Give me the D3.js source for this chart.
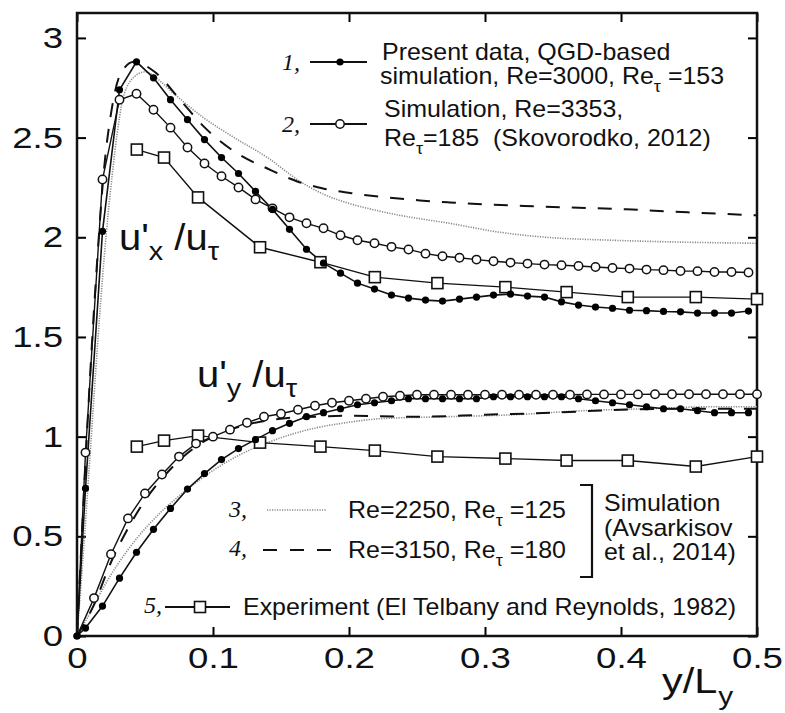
<!DOCTYPE html>
<html>
<head>
<meta charset="utf-8">
<script src="https://cdn.jsdelivr.net/npm/d3@7"></script>
<style>
  body { margin: 0; background: #fff; }
  text { white-space: pre; }
</style>
</head>
<body>
<svg id="chart" width="785" height="713"></svg>
<script>
// ---- data ----
// present data, QGD simulation (filled dots)
const presentX = [0, 0.00625, 0.01875, 0.03125, 0.04375, 0.05625, 0.06875, 0.08125, 0.09375, 0.10625,
  0.11875, 0.13125, 0.14375, 0.15625, 0.16875, 0.18125, 0.19375, 0.20625, 0.21875, 0.23125,
  0.24375, 0.25625, 0.26875, 0.28125, 0.29375, 0.30625, 0.31875, 0.33125, 0.34375, 0.35625,
  0.36875, 0.38125, 0.39375, 0.40625, 0.41875, 0.43125, 0.44375, 0.45625, 0.46875, 0.48125, 0.49375];
const presentUx = [0, 0.74, 2.03, 2.74, 2.88, 2.80, 2.69, 2.59, 2.49, 2.40,
  2.32, 2.23, 2.14, 2.04, 1.94, 1.87, 1.82, 1.77, 1.74, 1.71,
  1.695, 1.685, 1.68, 1.69, 1.70, 1.71, 1.715, 1.705, 1.70, 1.676,
  1.66, 1.65, 1.644, 1.634, 1.632, 1.628, 1.626, 1.62, 1.62, 1.62, 1.63];
const presentUy = [0, 0.04, 0.15, 0.29, 0.42, 0.535, 0.64, 0.737, 0.815, 0.885,
  0.94, 0.985, 1.03, 1.067, 1.10, 1.12, 1.14, 1.16, 1.17, 1.18,
  1.19, 1.19, 1.19, 1.19, 1.19, 1.20, 1.20, 1.20, 1.20, 1.20,
  1.19, 1.18, 1.17, 1.16, 1.15, 1.14, 1.14, 1.13, 1.12, 1.12, 1.12];

// Skovorodko 2012 (open circles)
const skovUxX = presentX;
const skovUx = [0, 0.92, 2.29, 2.69, 2.72, 2.64, 2.55, 2.45, 2.37, 2.306,
  2.25, 2.19, 2.145, 2.10, 2.07, 2.045, 2.01, 1.985, 1.97, 1.952,
  1.939, 1.918, 1.905, 1.897, 1.888, 1.880, 1.873, 1.868, 1.863, 1.860,
  1.856, 1.851, 1.846, 1.843, 1.838, 1.835, 1.831, 1.830, 1.826, 1.826, 1.823];
const skovUyX = [0, 0.0125, 0.025, 0.0375, 0.05, 0.0625, 0.075, 0.0875, 0.1, 0.1125,
  0.125, 0.1375, 0.15, 0.1625, 0.175, 0.1875, 0.2, 0.2125, 0.225, 0.2375,
  0.25, 0.2625, 0.275, 0.2875, 0.3, 0.3125, 0.325, 0.3375, 0.35, 0.3625,
  0.375, 0.3875, 0.4, 0.4125, 0.425, 0.4375, 0.45, 0.4625, 0.475, 0.4875, 0.5];
const skovUy = [0, 0.19, 0.41, 0.59, 0.715, 0.81, 0.90, 0.965, 1.00, 1.035,
  1.07, 1.10, 1.115, 1.135, 1.155, 1.17, 1.18, 1.19, 1.20, 1.205,
  1.21, 1.21, 1.21, 1.21, 1.21, 1.21, 1.21, 1.21, 1.21, 1.21,
  1.212, 1.212, 1.212, 1.212, 1.213, 1.213, 1.213, 1.213, 1.213, 1.213, 1.213];

// Avsarkisov et al. 2014, Re=2250 (dotted)
const avs2250UxX = [0, 0.005, 0.01, 0.015, 0.02, 0.026, 0.033, 0.04, 0.05, 0.06, 0.068, 0.08, 0.093,
  0.105, 0.118, 0.14, 0.164, 0.18, 0.2, 0.22, 0.2375, 0.274, 0.311, 0.345, 0.394, 0.45, 0.5];
const avs2250Ux = [0, 0.45, 0.95, 1.45, 1.9, 2.32, 2.67, 2.79, 2.83, 2.79, 2.74, 2.67, 2.60,
  2.545, 2.49, 2.40, 2.28, 2.22, 2.17, 2.135, 2.11, 2.07, 2.025, 2.00, 1.985, 1.975, 1.97];
const avs2250UyX = [0, 0.01, 0.02, 0.03, 0.044, 0.06, 0.08, 0.1, 0.12, 0.144, 0.173, 0.198,
  0.223, 0.272, 0.322, 0.371, 0.419, 0.468, 0.5];
const avs2250Uy = [0, 0.12, 0.25, 0.36, 0.49, 0.61, 0.73, 0.83, 0.91, 0.98, 1.04, 1.07,
  1.09, 1.10, 1.11, 1.13, 1.14, 1.15, 1.15];

// Avsarkisov et al. 2014, Re=3150 (dashed)
const avs3150UxX = [0, 0.005, 0.01, 0.015, 0.02, 0.025, 0.032, 0.042, 0.057, 0.077, 0.094, 0.118,
  0.14, 0.162, 0.181, 0.203, 0.228, 0.252, 0.274, 0.30, 0.338, 0.36, 0.404, 0.449, 0.5];
const avs3150Ux = [0, 0.7, 1.35, 1.9, 2.35, 2.62, 2.82, 2.88, 2.83, 2.68, 2.55, 2.42,
  2.345, 2.28, 2.245, 2.22, 2.20, 2.185, 2.175, 2.165, 2.155, 2.15, 2.14, 2.125, 2.11];
const avs3150UyX = [0, 0.012, 0.025, 0.0375, 0.05, 0.0625, 0.075, 0.0875, 0.1, 0.125, 0.15,
  0.175, 0.2, 0.25, 0.3, 0.35, 0.4, 0.45, 0.5];
const avs3150Uy = [0, 0.15, 0.37, 0.54, 0.68, 0.79, 0.88, 0.95, 1.00, 1.06, 1.09,
  1.10, 1.105, 1.10, 1.11, 1.12, 1.135, 1.14, 1.14];

// experiment, El Telbany and Reynolds 1982 (open squares)
const expX = [0.044, 0.064, 0.089, 0.1346, 0.179, 0.219, 0.265, 0.315, 0.360, 0.405, 0.455, 0.50];
const expUx = [2.44, 2.40, 2.20, 1.95, 1.875, 1.80, 1.77, 1.75, 1.725, 1.70, 1.70, 1.69];
const expUy = [0.95, 0.98, 1.005, 0.97, 0.95, 0.93, 0.90, 0.89, 0.88, 0.88, 0.85, 0.90];

// axes
const xTicks = [0, 0.1, 0.2, 0.3, 0.4, 0.5];
const xTickLabels = ["0", "0.1", "0.2", "0.3", "0.4", "0.5"];
const yTicks = [0, 0.5, 1, 1.5, 2, 2.5, 3];
const yTickLabels = ["0", "0.5", "1", "1.5", "2", "2.5", "3"];

// ---- chart ----
const W = 785, H = 713;
const margin = { top: 13, right: 28, bottom: 77, left: 77 };
const FONT = "Arial, 'Liberation Sans', sans-serif";
const SERIF = "'Times New Roman', 'Liberation Serif', serif";

const svg = d3.select("#chart");

const x = d3.scaleLinear().domain([0, 0.5]).range([margin.left, W - margin.right]);
const y = d3.scaleLinear().domain([0, 3.125]).range([H - margin.bottom, margin.top]);

const zip = (xs, ys) => xs.map((v, i) => [v, ys[i]]);
const line = d3.line().x(d => x(d[0])).y(d => y(d[1]));
const smooth = d3.line().x(d => x(d[0])).y(d => y(d[1])).curve(d3.curveMonotoneX);

const tickSx = 1.22;
const tickFmt = (labels, ticks) => d => labels[ticks.indexOf(d)];

// bottom axis
svg.append("g")
  .attr("transform", `translate(0,${y(0)})`)
  .call(d3.axisBottom(x).tickValues(xTicks).tickFormat(tickFmt(xTickLabels, xTicks))
    .tickSizeInner(-9).tickSizeOuter(0).tickPadding(11))
  .call(g => g.select(".domain").remove())
  .call(g => g.selectAll("text").attr("font-size", 30).attr("font-family", FONT).attr("fill", "#111")
    .attr("transform", `scale(${tickSx},1)`))
  .call(g => g.selectAll("line").attr("stroke-width", 2));

// left axis
svg.append("g")
  .attr("transform", `translate(${x(0)},0)`)
  .call(d3.axisLeft(y).tickValues(yTicks).tickFormat(tickFmt(yTickLabels, yTicks))
    .tickSizeInner(-9).tickSizeOuter(0).tickPadding(14))
  .call(g => g.select(".domain").remove())
  .call(g => g.selectAll("text").attr("font-size", 30).attr("font-family", FONT).attr("fill", "#111")
    .attr("x", -14 / tickSx).attr("transform", `scale(${tickSx},1)`))
  .call(g => g.selectAll("line").attr("stroke-width", 2));

// top and right ticks, no labels
svg.append("g")
  .attr("transform", `translate(0,${y.range()[1]})`)
  .call(d3.axisTop(x).tickValues(xTicks).tickFormat("").tickSizeInner(-9).tickSizeOuter(0))
  .call(g => g.select(".domain").remove())
  .call(g => g.selectAll("line").attr("stroke-width", 2));
svg.append("g")
  .attr("transform", `translate(${x(0.5)},0)`)
  .call(d3.axisRight(y).tickValues(yTicks).tickFormat("").tickSizeInner(-9).tickSizeOuter(0))
  .call(g => g.select(".domain").remove())
  .call(g => g.selectAll("line").attr("stroke-width", 2));

// frame
svg.append("rect")
  .attr("x", x(0)).attr("y", y.range()[1])
  .attr("width", x(0.5) - x(0)).attr("height", y(0) - y.range()[1])
  .attr("fill", "none").attr("stroke", "#111").attr("stroke-width", 2.5);

const plot = svg.append("g");

const styles = {
  present: { stroke: "#111", width: 1.6, dash: null },
  skov: { stroke: "#111", width: 1.4, dash: null },
  exp: { stroke: "#111", width: 1.4, dash: null },
  avs2250: { stroke: "#8a8a8a", width: 1.6, dash: "1.2,1.3" },
  avs3150: { stroke: "#111", width: 2, dash: "14,12" }
};

function drawLine(data, st, gen) {
  plot.append("path")
    .datum(data)
    .attr("d", gen)
    .attr("fill", "none")
    .attr("stroke", st.stroke)
    .attr("stroke-width", st.width)
    .attr("stroke-dasharray", st.dash);
}

function drawMarkers(g, data, kind) {
  const pts = data.filter(d => !(kind !== "dot" && d[0] === 0));
  if (kind === "dot") {
    g.selectAll(null).data(pts).join("circle")
      .attr("cx", d => x(d[0])).attr("cy", d => y(d[1])).attr("r", 3.6)
      .attr("fill", "#000");
  } else if (kind === "circle") {
    g.selectAll(null).data(pts).join("circle")
      .attr("cx", d => x(d[0])).attr("cy", d => y(d[1])).attr("r", 4.2)
      .attr("fill", "#fff").attr("stroke", "#111").attr("stroke-width", 1.5);
  } else {
    g.selectAll(null).data(pts).join("rect")
      .attr("x", d => x(d[0]) - 5.5).attr("y", d => y(d[1]) - 5.5)
      .attr("width", 11).attr("height", 11)
      .attr("fill", "#fff").attr("stroke", "#111").attr("stroke-width", 1.6);
  }
}

// smooth simulation curves (3, 4)
drawLine(zip(avs2250UxX, avs2250Ux), styles.avs2250, smooth);
drawLine(zip(avs2250UyX, avs2250Uy), styles.avs2250, smooth);
drawLine(zip(avs3150UxX, avs3150Ux), styles.avs3150, smooth);
drawLine(zip(avs3150UyX, avs3150Uy), styles.avs3150, smooth);

// marker series (1, 2, 5)
const markerSeries = [
  { data: zip(expX, expUx), st: styles.exp, kind: "square" },
  { data: zip(expX, expUy), st: styles.exp, kind: "square" },
  { data: zip(skovUxX, skovUx), st: styles.skov, kind: "circle" },
  { data: zip(skovUyX, skovUy), st: styles.skov, kind: "circle" },
  { data: zip(presentX, presentUx), st: styles.present, kind: "dot" },
  { data: zip(presentX, presentUy), st: styles.present, kind: "dot" }
];
markerSeries.forEach(s => drawLine(s.data, s.st, line));
markerSeries.forEach(s => drawMarkers(plot.append("g"), s.data, s.kind));

// ---- text helpers ----
// parts: strings or {t, sub:true}
function addText(px, py, parts, size, sx, family, italic) {
  const t = svg.append("g")
    .attr("transform", `translate(${px},${py}) scale(${sx},1)`)
    .append("text")
    .attr("font-size", size)
    .attr("font-family", family || FONT)
    .attr("font-style", italic ? "italic" : null)
    .attr("fill", "#111");
  let cur = 0;
  parts.forEach(p => {
    if (typeof p === "string") p = { t: p };
    const off = p.sub ? size * (p.subShift || 0.32) : 0;
    const ts = t.append("tspan").attr("dy", off - cur).text(p.t);
    if (p.sub) ts.attr("font-size", size * (p.subSize || 0.72));
    if (p.dx) ts.attr("dx", p.dx);
    cur = off;
  });
  return t;
}

// axis titles
addText(662, 693, ["y/L", { t: "y", sub: true, dx: 1 }], 36, 1.15);
addText(119, 250, ["u'", { t: "x", sub: true, subShift: 0.28 }, " /u", { t: "τ", sub: true, subShift: 0.28 }], 37, 1.08);
addText(197, 387, ["u'", { t: "y", sub: true, subShift: 0.28 }, " /u", { t: "τ", sub: true, subShift: 0.28 }], 37, 1.08);

// ---- legend ----
const legSx = 1.04, legSize = 24, numSize = 24;
const leg = svg.append("g");

// item 1
addText(282, 70, ["1,"], numSize, 1, SERIF, true);
leg.append("line").attr("x1", 310).attr("x2", 367).attr("y1", 62).attr("y2", 62)
  .attr("stroke", "#111").attr("stroke-width", 2);
drawMarkers(leg.append("g"), [[x.invert(340), y.invert(62)]], "dot");
addText(382, 60, ["Present data, QGD-based"], legSize, legSx);
addText(380, 84, ["simulation, Re=3000, Re", { t: "τ", sub: true }, " =153"], legSize, legSx);

// item 2
addText(282, 132, ["2,"], numSize, 1, SERIF, true);
leg.append("line").attr("x1", 310).attr("x2", 367).attr("y1", 124).attr("y2", 124)
  .attr("stroke", "#111").attr("stroke-width", 2);
drawMarkers(leg.append("g"), [[x.invert(340), y.invert(124)]], "circle");
addText(384, 117, ["Simulation, Re=3353,"], legSize, legSx);
addText(384, 146, ["Re", { t: "τ", sub: true }, "=185  (Skovorodko, 2012)"], legSize, legSx);

// item 3
addText(229, 517, ["3,"], numSize, 1, SERIF, true);
leg.append("line").attr("x1", 267).attr("x2", 327).attr("y1", 510).attr("y2", 510)
  .attr("stroke", styles.avs2250.stroke).attr("stroke-width", 1.6).attr("stroke-dasharray", styles.avs2250.dash);
addText(348, 518, ["Re=2250, Re", { t: "τ", sub: true }, " =125"], legSize, legSx);

// item 4
addText(229, 556, ["4,"], numSize, 1, SERIF, true);
leg.append("line").attr("x1", 263).attr("x2", 333).attr("y1", 550).attr("y2", 550)
  .attr("stroke", "#111").attr("stroke-width", 2).attr("stroke-dasharray", "14,13");
addText(348, 558, ["Re=3150, Re", { t: "τ", sub: true }, " =180"], legSize, legSx);

// item 5
addText(144, 613, ["5,"], numSize, 1, SERIF, true);
leg.append("line").attr("x1", 165).attr("x2", 230).attr("y1", 607).attr("y2", 607)
  .attr("stroke", "#111").attr("stroke-width", 1.8);
drawMarkers(leg.append("g"), [[x.invert(200), y.invert(607)]], "square");
addText(243, 615, ["Experiment (El Telbany and Reynolds, 1982)"], legSize, legSx);

// bracket for 3 and 4
leg.append("path").attr("d", "M580,485 H592 V577 H580")
  .attr("fill", "none").attr("stroke", "#111").attr("stroke-width", 2.2);
addText(604, 511, ["Simulation"], legSize, legSx);
addText(604, 536, ["(Avsarkisov"], legSize, legSx);
addText(604, 560, ["et al., 2014)"], legSize, legSx);
</script>
</body>
</html>
